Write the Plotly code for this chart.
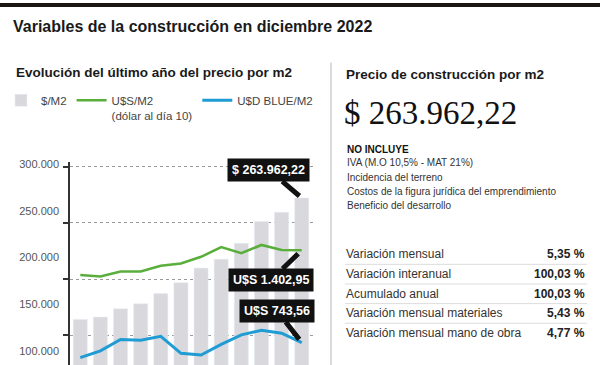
import plotly.graph_objects as go

# ---------------- data ----------------
months = ["Ene", "Feb", "Mar", "Abr", "May", "Jun", "Jul", "Ago", "Sep", "Oct", "Nov", "Dic"]
precio_m2_pesos = [133700, 136200, 145100, 150400, 161400, 173100, 188700, 198300, 215300, 238700, 248500, 263962.22]
precio_m2_usd = [1226, 1216, 1251, 1251, 1292, 1308, 1356, 1426, 1382, 1441, 1405, 1402.95]
precio_m2_usd_blue = [635, 684, 765, 760, 788, 666, 654, 730, 798, 831, 810, 743.56]
y_tick_vals = [100000, 150000, 200000, 250000, 300000]
y_tick_text = ["100.000", "150.000", "200.000", "250.000", "300.000"]

no_incluye = ["IVA (M.O 10,5% - MAT 21%)", "Incidencia del terreno",
              "Costos de la figura jurídica del emprendimiento", "Beneficio del desarrollo"]
tabla_labels = ["Variación mensual", "Variación interanual", "Acumulado anual",
                "Variación mensual materiales", "Variación mensual mano de obra"]
tabla_values = ["5,35 %", "100,03 %", "100,03 %", "5,43 %", "4,77 %"]

W, H = 600, 365
def fx(px): return px / W
def fy(py): return 1 - py / H

FONT = "Arial, Liberation Sans, sans-serif"
GREY_BAR = "#d9d9dd"
GREEN = "#5aae3c"
BLUE = "#1e9cd3"

fig = go.Figure()
fig.add_trace(go.Bar(x=months, y=precio_m2_pesos, name="$/M2", marker_color=GREY_BAR,
                     width=0.7, yaxis="y", hoverinfo="skip"))
fig.add_trace(go.Scatter(x=months, y=precio_m2_usd, name="U$S/M2<br>(dólar al día 10)", mode="lines",
                         line=dict(color=GREEN, width=2.6), yaxis="y2", hoverinfo="skip"))
fig.add_trace(go.Scatter(x=months, y=precio_m2_usd_blue, name="U$D BLUE/M2", mode="lines",
                         line=dict(color=BLUE, width=3), yaxis="y2", hoverinfo="skip"))
# gridline axis carrier
fig.add_trace(go.Scatter(x=[months[0]], y=[None], yaxis="y3", showlegend=False, hoverinfo="skip"))

plot_top = 160
fig.update_layout(
    width=W, height=H, margin=dict(l=0, r=0, t=0, b=0),
    paper_bgcolor="white", plot_bgcolor="rgba(0,0,0,0)",
    font=dict(family=FONT, color="#333"),
    bargap=0.3,
    xaxis=dict(domain=[fx(70), fx(313)], range=[-0.51, 11.56], showticklabels=False,
               showgrid=False, zeroline=False, ticks="", showline=False),
    yaxis=dict(domain=[0, fy(plot_top)], range=[84787, 302872], tickvals=y_tick_vals,
               ticktext=y_tick_text, showgrid=False, zeroline=False, ticks="",
               showline=False, ticklabelstandoff=10,
               tickfont=dict(size=11, color="#555", family=FONT)),
    yaxis2=dict(overlaying="y", range=[582.8, 2036.3], visible=False),
    yaxis3=dict(overlaying="y", range=[123500, 304400], tickvals=[150000, 200000, 250000, 300000],
                showticklabels=False, showgrid=True, griddash="dot", gridcolor="#9a9a9a",
                gridwidth=1, zeroline=False, ticks="outside", ticklen=5, tickcolor="#333",
                tickwidth=1.5, showline=True, linecolor="#333", linewidth=1.5, side="left"),
    legend=dict(orientation="h", x=fx(1), y=fy(84), xanchor="left", yanchor="top",
                valign="top", font=dict(size=11.5, color="#444", family=FONT),
                bgcolor="rgba(0,0,0,0)", traceorder="normal", itemclick=False),
    showlegend=True,
)

annotations = []
def txt(x, y, text, size, bold=False, color="#222", family=FONT, xanchor="left"):
    annotations.append(dict(xref="paper", yref="paper", x=fx(x), y=fy(y), text=f"<b>{text}</b>" if bold else text,
                            showarrow=False, xanchor=xanchor, yanchor="middle",
                            font=dict(size=size, color=color, family=family)))

txt(11, 24, "Variables de la construcción en diciembre 2022", 16, bold=True, color="#1a1a1a")
txt(14, 70, "Evolución del último año del precio por m2", 13.5, bold=True, color="#1a1a1a")
txt(344, 72, "Precio de construcción por m2", 13.5, bold=True, color="#1a1a1a")
txt(342, 111, "$ 263.962,22", 33, color="#111", family="Liberation Serif, Times New Roman, serif")
txt(345, 148, "NO INCLUYE", 10, bold=True, color="#111")
for i, t in enumerate(no_incluye):
    txt(345, 161 + i * 14.5, t, 10, color="#333")
for i, (lab, val) in enumerate(zip(tabla_labels, tabla_values)):
    yy = 253.5 + i * 19.8
    txt(344, yy, lab, 12, color="#333")
    txt(587, yy, val, 12, bold=True, color="#222", xanchor="right")

# callouts
callout = dict(showarrow=True, arrowhead=0, arrowwidth=5, arrowcolor="#111", bgcolor="#111",
               borderpad=4, font=dict(size=12.5, color="white", family=FONT))
annotations.append(dict(x=months[11], y=precio_m2_pesos[11], xref="x", yref="y",
                        text="<b>$ 263.962,22</b>", ax=-33, ay=-28, standoff=3, **callout))
annotations.append(dict(x=months[11], y=precio_m2_usd[11], xref="x", yref="y2",
                        text="<b>U$S 1.402,95</b>", ax=-31, ay=30, standoff=5, **callout))
annotations.append(dict(x=months[11], y=precio_m2_usd_blue[11], xref="x", yref="y2",
                        text="<b>U$S 743,56</b>", ax=-25, ay=-32, standoff=4, **callout))
fig.update_layout(annotations=annotations)

shapes = [
    dict(type="rect", xref="paper", yref="paper", x0=0, x1=1, y0=fy(4), y1=1,
         fillcolor="#1b1511", line_width=0),
    dict(type="line", xref="paper", yref="paper", x0=fx(331), x1=fx(331), y0=fy(60), y1=0,
         line=dict(color="#cfcfcf", width=1.5)),
]
for i in range(4):
    yy = 263.5 + i * 19.8
    shapes.append(dict(type="line", xref="paper", yref="paper", x0=fx(345), x1=fx(587),
                       y0=fy(yy), y1=fy(yy), line=dict(color="#dddddd", width=1)))
fig.update_layout(shapes=shapes)

fig.write_html("out.html", config={"displayModeBar": False},
               post_script="document.body.style.margin='0';document.body.style.padding='0';")
